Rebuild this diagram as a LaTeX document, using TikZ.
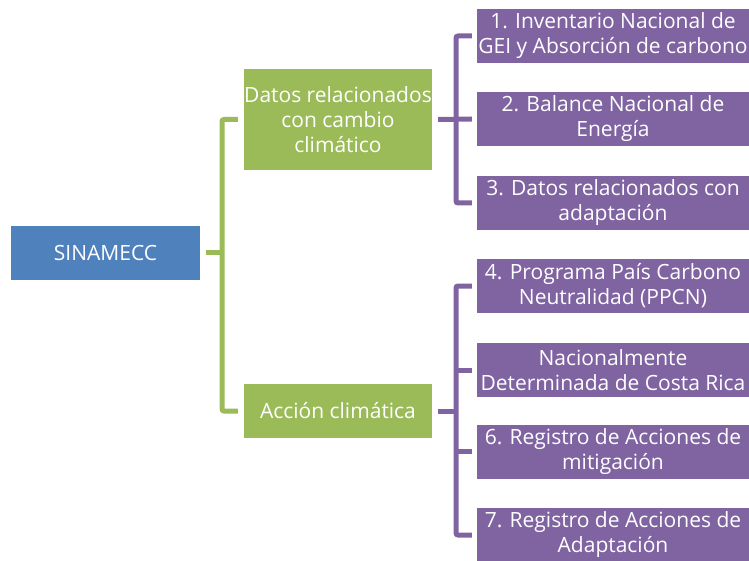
\documentclass[tikz,border=0pt]{standalone}
\usepackage{fontspec}
\setmainfont{Open Sans}
\definecolor{cblue}{HTML}{4F81BD}
\definecolor{cgreen}{HTML}{9BBB59}
\definecolor{cpurple}{HTML}{8064A2}
\begin{document}
\begin{tikzpicture}[x=1pt,y=-1pt,
  boxbase/.style={rectangle, inner sep=0pt, text=white, align=center,
    font=\fontsize{21}{25}\selectfont},
  rootbox/.style={boxbase, fill=cblue, minimum width=189pt, minimum height=54pt},
  greenbox/.style={boxbase, fill=cgreen, minimum width=188pt},
  purplebox/.style={boxbase, fill=cpurple, minimum width=272pt, minimum height=54pt},
  greenline/.style={draw=cgreen, line width=5pt, rounded corners=2pt},
  purpleline/.style={draw=cpurple, line width=5pt, rounded corners=2pt}]
\useasboundingbox (0,0) rectangle (749,561);
\node[rootbox] (sin) at (105.5,253) {SINAMECC};
\node[greenbox, minimum height=101pt] (g1) at (338,119.5) {Datos relacionados\\con cambio\\climático};
\node[greenbox, minimum height=54pt] (g2) at (338,411) {Acción climática};
\node[purplebox] (p1) at (613,36) {1. Inventario Nacional de\\GEI y Absorción de carbono};
\node[purplebox] (p2) at (613,119) {2. Balance Nacional de\\Energía};
\node[purplebox] (p3) at (613,203) {3. Datos relacionados con\\adaptación};
\node[purplebox] (p4) at (613,286) {4. Programa País Carbono\\Neutralidad (PPCN)};
\node[purplebox] (p5) at (613,370) {Nacionalmente\\Determinada de Costa Rica};
\node[purplebox] (p6) at (613,451.5) {6. Registro de Acciones de\\mitigación};
\node[purplebox] (p7) at (613,535) {7. Registro de Acciones de\\Adaptación};
\coordinate (gs) at (222,253);
\coordinate (ps1) at (456,119);
\coordinate (ps2) at (456,411);
% green tree
\draw[greenline] ([xshift=6pt]sin.east) -- (gs);
\draw[greenline] ([xshift=-6pt]g1.west) -| (gs) |- ([xshift=-6pt]g2.west);
% purple tree 1
\draw[purpleline] ([xshift=-5pt]p1.west) -| (ps1) |- ([xshift=-5pt]p3.west);
\draw[purpleline] ([xshift=6pt]g1.east) -- ([xshift=-5pt]p2.west);
% purple tree 2
\draw[purpleline] ([xshift=-5pt]p4.west) -| (ps2) |- ([xshift=-5pt]p7.west);
\draw[purpleline] ([xshift=6pt]g2.east) -- (ps2);
\draw[purpleline] (ps2 |- p5.west) -- ([xshift=-5pt]p5.west);
\draw[purpleline] (ps2 |- p6.west) -- ([xshift=-5pt]p6.west);
\end{tikzpicture}
\end{document}
